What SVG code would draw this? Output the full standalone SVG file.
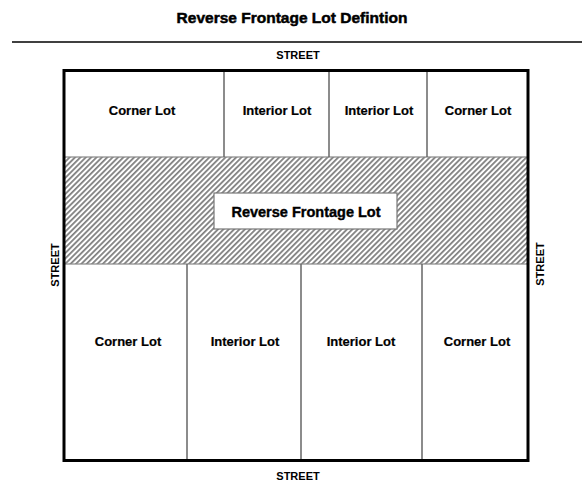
<svg xmlns="http://www.w3.org/2000/svg" width="582" height="484" viewBox="0 0 582 484">
<style>
text{font-family:"Liberation Sans",Arial,sans-serif;font-weight:bold;fill:#000;text-anchor:middle}
.title{font-size:15.5px;stroke:#000;stroke-width:0.5}
.street{font-size:11px}
.lot{font-size:13px;stroke:#000;stroke-width:0.2}
.rfl{font-size:14.5px;stroke:#000;stroke-width:0.4}
.div{stroke:#666;stroke-width:1.5;fill:none}
</style>
<defs>
<pattern id="hatch" width="3.8" height="10" patternUnits="userSpaceOnUse" patternTransform="rotate(45)">
<rect width="3.8" height="10" fill="#fff"/>
<line x1="0.9" y1="0" x2="0.9" y2="10" stroke="#7a7a7a" stroke-width="1.7"/>
</pattern>
</defs>
<rect width="582" height="484" fill="#fff"/>
<text class="title" x="292" y="23">Reverse Frontage Lot Defintion</text>
<line x1="12" y1="42" x2="582" y2="42" stroke="#000" stroke-width="1.6"/>
<text class="street" x="298" y="59">STREET</text>
<text class="street" x="298" y="480">STREET</text>
<text class="street" transform="translate(59,265) rotate(-90)">STREET</text>
<text class="street" transform="translate(544,264) rotate(-90)">STREET</text>
<g id="band">
<rect x="64" y="157" width="464" height="107" fill="url(#hatch)" stroke="#888" stroke-width="1.2"/>
</g>
<g id="connectors">
<line class="div" x1="224" y1="70" x2="224" y2="157"/>
<line class="div" x1="329" y1="70" x2="329" y2="157"/>
<line class="div" x1="427" y1="70" x2="427" y2="157"/>
<line class="div" x1="187" y1="264" x2="187" y2="461"/>
<line class="div" x1="301" y1="264" x2="301" y2="461"/>
<line class="div" x1="422" y1="264" x2="422" y2="461"/>
</g>
<g id="outer">
<rect x="64" y="70.5" width="464" height="390" fill="none" stroke="#000" stroke-width="3"/>
</g>
<g id="top-corner-1"><text class="lot" x="142" y="115">Corner Lot</text></g>
<g id="top-interior-1"><text class="lot" x="277" y="115">Interior Lot</text></g>
<g id="top-interior-2"><text class="lot" x="379" y="115">Interior Lot</text></g>
<g id="top-corner-2"><text class="lot" x="478" y="115">Corner Lot</text></g>
<g id="reverse-frontage">
<rect x="214" y="193" width="183" height="36" fill="#fff" stroke="#777" stroke-width="1.2"/>
<text class="rfl" x="306" y="217">Reverse Frontage Lot</text>
</g>
<g id="bottom-corner-1"><text class="lot" x="128" y="346">Corner Lot</text></g>
<g id="bottom-interior-1"><text class="lot" x="245" y="346">Interior Lot</text></g>
<g id="bottom-interior-2"><text class="lot" x="361" y="346">Interior Lot</text></g>
<g id="bottom-corner-2"><text class="lot" x="477" y="346">Corner Lot</text></g>
</svg>
